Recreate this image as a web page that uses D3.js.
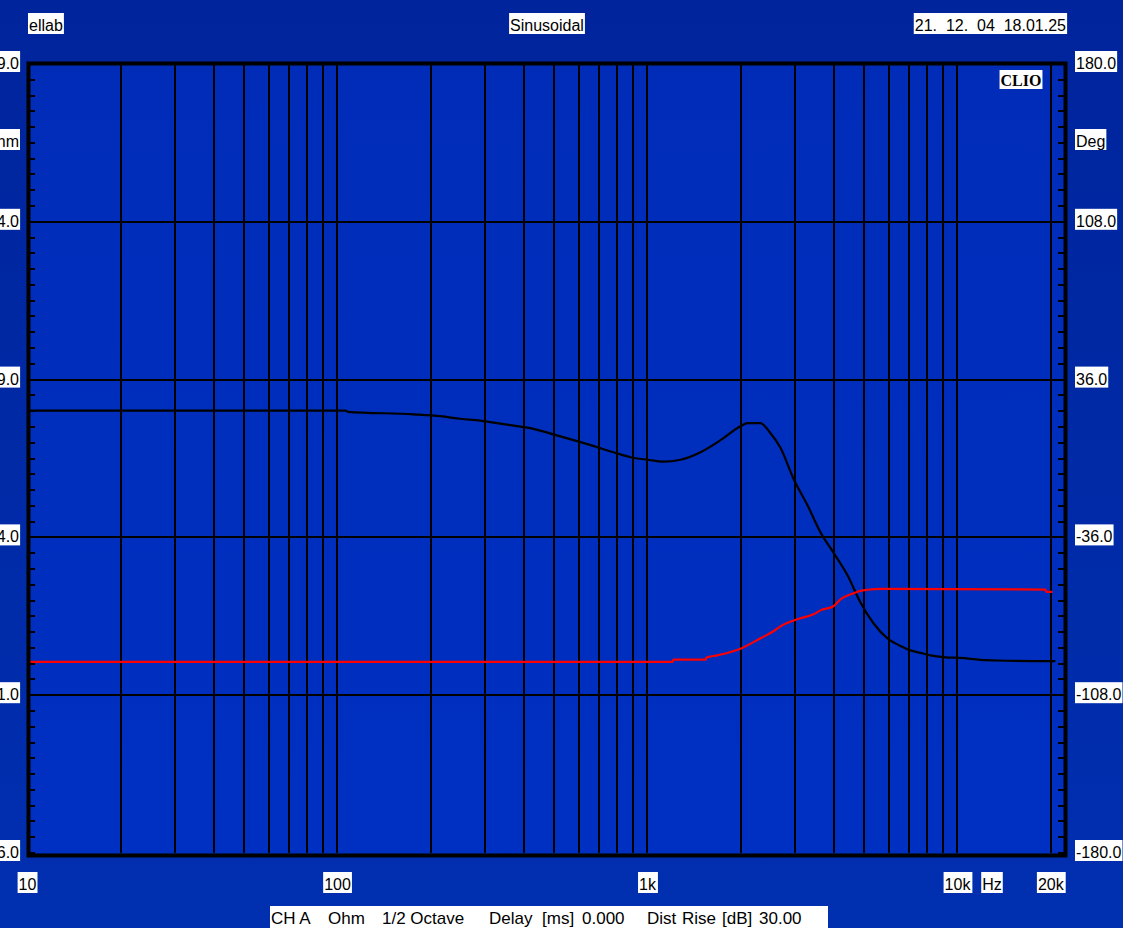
<!DOCTYPE html>
<html>
<head>
<meta charset="utf-8">
<script src="https://cdn.jsdelivr.net/npm/d3@7/dist/d3.min.js"></script>
<style>
  html, body { margin: 0; padding: 0; background: #0028a8; overflow: hidden; }
  svg { display: block; }
  text { font-family: "Liberation Sans", Arial, sans-serif; font-size: 16px; fill: #000; }
</style>
</head>
<body>
<svg id="chart" width="1123" height="928"></svg>
<script>
// Impedance curve (left axis, Ohm)
const impedanceFreq = [10, 106, 108, 176, 215, 249, 289, 348, 419, 524, 608, 777, 882, 1000, 1126, 1278, 1483, 1720, 1995, 2102, 2315, 2494, 2685, 2958, 3282, 3614, 3981, 4418, 4865, 5358, 5946, 6549, 7053, 7598, 8183, 9148, 10225, 11864, 13460, 20700];
const impedanceOhm  = [44.1, 44.1, 43.9, 43.5, 43.2, 42.8, 42.5, 41.9, 41.3, 40.0, 39.1, 37.5, 36.7, 36.3, 36.0, 36.3, 37.5, 39.4, 41.6, 42.1, 42.1, 40.5, 38.2, 33.3, 29.1, 24.8, 21.6, 18.0, 13.7, 10.4, 8.0, 6.8, 6.1, 5.7, 5.3, 5.0, 4.9, 4.6, 4.5, 4.4];

// Phase curve (right axis, Deg)
const phaseFreq = [10, 1204, 1213, 1539, 1550, 1682, 1995, 2315, 2550, 2685, 3115, 3432, 3614, 3981, 4194, 4618, 4865, 5125, 5729, 19221, 19365, 20255];
const phaseDeg  = [-92.8, -92.8, -91.8, -91.8, -90.8, -89.8, -86.8, -82.0, -78.8, -76.6, -72.9, -71.1, -69.3, -67.4, -64.3, -61.5, -60.4, -59.9, -59.5, -59.8, -60.9, -60.9];

// Axis ticks and labels
const leftTicks  = [99, 74, 49, 24, -1, -26];
const rightTicks = [180, 108, 36, -36, -108, -180];
const freqLabels = [10, 100, 1000, 10000, 20000];
const freqLabelText = ["10", "100", "1k", "10k", "20k"];
const freqMax = 22060;

const svg = d3.select("#chart");
const W = 1123, H = 928;
const L = 27.5, R = 1064, T = 64, B = 853;

// background
const defs = svg.append("defs");
const bg = defs.append("linearGradient").attr("id", "bg").attr("x1", 0).attr("y1", 0).attr("x2", 0).attr("y2", 1);
bg.append("stop").attr("offset", "0%").attr("stop-color", "#00249c");
bg.append("stop").attr("offset", "100%").attr("stop-color", "#002fb0");
const pg = defs.append("linearGradient").attr("id", "pg").attr("x1", 0).attr("y1", 0).attr("x2", 0).attr("y2", 1);
pg.append("stop").attr("offset", "0%").attr("stop-color", "#002cb8");
pg.append("stop").attr("offset", "100%").attr("stop-color", "#0030c2");
defs.append("clipPath").attr("id", "clip").append("rect")
  .attr("x", L).attr("y", T).attr("width", R - L).attr("height", B - T);

svg.append("rect").attr("width", W).attr("height", H).attr("fill", "url(#bg)");
svg.append("rect").attr("x", L).attr("y", T).attr("width", R - L).attr("height", B - T).attr("fill", "url(#pg)");

const x = d3.scaleLog().domain([10, freqMax]).range([L, R]);
const yL = d3.scaleLinear().domain([-26, 99]).range([B, T]);
const yR = d3.scaleLinear().domain([-180, 180]).range([B, T]);

// vertical grid: every 1..9 step of each decade
const gridFreqs = [];
for (let dec = 10; dec <= 10000; dec *= 10) {
  for (let k = 1; k <= 9; k++) {
    const f = dec * k;
    if (f > 10 && f <= 20000) gridFreqs.push(f);
  }
}
gridFreqs.push(20000);
const grid = svg.append("g").attr("stroke", "#000").attr("stroke-width", 2).attr("shape-rendering", "crispEdges");
grid.selectAll("line.v").data(gridFreqs).join("line")
  .attr("class", "v")
  .attr("x1", d => Math.round(x(d))).attr("x2", d => Math.round(x(d)))
  .attr("y1", T).attr("y2", B);
grid.selectAll("line.h").data(rightTicks.slice(1, -1)).join("line")
  .attr("class", "h")
  .attr("x1", L).attr("x2", R)
  .attr("y1", d => yR(d)).attr("y2", d => yR(d));

// minor ticks on both vertical edges
const minor = d3.range(0, 51).map(i => -180 + i * 7.2);
const ticks = svg.append("g").attr("stroke", "#000").attr("stroke-width", 2).attr("shape-rendering", "crispEdges");
ticks.selectAll("line.l").data(minor).join("line").attr("class", "l")
  .attr("x1", L).attr("x2", L + 7).attr("y1", d => yR(d)).attr("y2", d => yR(d));
ticks.selectAll("line.r").data(minor).join("line").attr("class", "r")
  .attr("x1", R - 6).attr("x2", R).attr("y1", d => yR(d)).attr("y2", d => yR(d));

// curves
const plotArea = svg.append("g").attr("clip-path", "url(#clip)");
const impLine = d3.line().x(d => x(d[0])).y(d => yL(d[1])).curve(d3.curveMonotoneX);
const phLine = d3.line().x(d => x(d[0])).y(d => yR(d[1])).curve(d3.curveMonotoneX);
plotArea.append("path")
  .datum(impedanceFreq.map((f, i) => [f, impedanceOhm[i]]))
  .attr("d", impLine).attr("fill", "none").attr("stroke", "#000").attr("stroke-width", 2.2);
plotArea.append("path")
  .datum(phaseFreq.map((f, i) => [f, phaseDeg[i]]))
  .attr("d", phLine).attr("fill", "none").attr("stroke", "#ff0000").attr("stroke-width", 2.2);

// frame
svg.append("rect").attr("x", 28.5).attr("y", 63.5).attr("width", 1037).attr("height", 792)
  .attr("fill", "none").attr("stroke", "#000").attr("stroke-width", 4);

// labels with white boxes
function boxed(g, str, px, baseline, anchor, opts = {}) {
  const grp = g.append("g");
  const r = grp.append("rect").attr("fill", "#fff");
  const t = grp.append("text").attr("x", px).attr("y", baseline)
    .attr("text-anchor", anchor || "start").style("white-space", "pre").text(str);
  if (opts.font) t.style("font-family", opts.font);
  if (opts.weight) t.style("font-weight", opts.weight);
  if (opts.size) t.style("font-size", opts.size + "px");
  const bb = t.node().getBBox();
  const h = opts.h || 21;
  r.attr("x", bb.x - 1).attr("y", baseline - (opts.up || 18)).attr("width", bb.width + 2).attr("height", h);
  return grp;
}
const labels = svg.append("g");

// header
boxed(labels, "ellab", 29, 31, "start");
boxed(labels, "Sinusoidal", 547, 31, "middle");
boxed(labels, "21.  12.  04  18.01.25", 1066, 31, "end");

// left axis
leftTicks.forEach(v => boxed(labels, v.toFixed(1), 19, yL(v) + 5, "end"));
boxed(labels, "Ohm", 19, 147, "end");
// right axis
rightTicks.forEach(v => boxed(labels, v.toFixed(1), 1076, yR(v) + 5, "start"));
boxed(labels, "Deg", 1076, 147, "start");

// frequency labels
freqLabels.forEach((f, i) => boxed(labels, freqLabelText[i], x(f), 890, "middle"));
boxed(labels, "Hz", 992, 890, "middle");

// logo
boxed(labels, "CLIO", 1021, 86, "middle", { font: "'Liberation Serif', 'DejaVu Serif', serif", weight: "bold", up: 16, h: 19 });

// footer
svg.append("rect").attr("x", 270).attr("y", 906).attr("width", 558).attr("height", 22).attr("fill", "#fff");
const footer = [["CH A", 271], ["Ohm", 328], ["1/2 Octave", 382], ["Delay", 489], ["[ms]", 542], ["0.000", 582],
                ["Dist", 647], ["Rise", 682], ["[dB]", 722], ["30.00", 759]];
svg.append("g").selectAll("text").data(footer).join("text")
  .attr("x", d => d[1]).attr("y", 924).style("font-size", "17px").text(d => d[0]);
</script>
</body>
</html>
